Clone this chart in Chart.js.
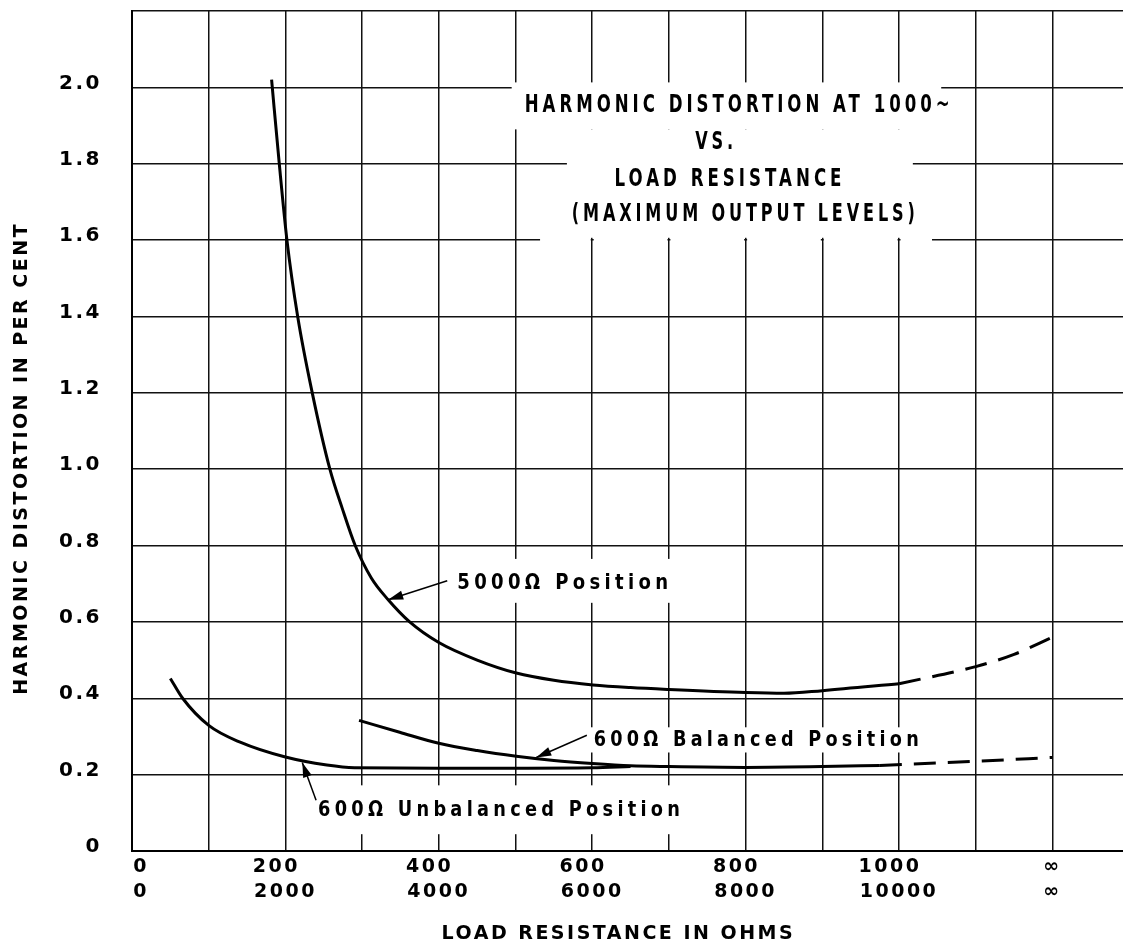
<!DOCTYPE html>
<html lang="en">
<head>
<meta charset="UTF-8">
<title>Harmonic Distortion vs. Load Resistance</title>
<script src="https://cdn.jsdelivr.net/npm/chart.js"></script>
<style>
  body { margin: 0; background: #fff; }
  #wrap { width: 1123px; height: 949px; }
</style>
</head>
<body>
<div id="wrap"><canvas id="chart" width="1123" height="949"></canvas></div>
<script>
// values: x = load resistance in ohms (top scale), y = distortion in per cent
const pos5000 = [[182, 2.02], [192, 1.80], [202, 1.60], [216, 1.40], [235, 1.20], [258, 1.00],
    [274, 0.898], [291, 0.80], [312, 0.715], [334, 0.658], [362, 0.60], [400, 0.546], [450, 0.500],
    [501, 0.466], [550, 0.447], [601, 0.435], [650, 0.428], [700, 0.423], [800, 0.415],
    [850, 0.413], [900, 0.42], [1000, 0.438]];
const pos5000Dash = [[1000, 0.438], [1100, 0.483], [1150, 0.515], [1200, 0.56]];
const balanced = [[296, 0.342], [349, 0.311], [400, 0.282], [450, 0.263], [501, 0.248], [550, 0.237],
    [600, 0.229], [650, 0.223], [700, 0.221], [800, 0.219], [900, 0.221], [975, 0.224]];
const balancedDash = [[975, 0.224], [1100, 0.235], [1200, 0.245]];
const unbalanced = [[50, 0.452], [66, 0.40], [100, 0.329], [141, 0.285], [200, 0.246], [254, 0.225],
    [290, 0.218], [400, 0.217], [500, 0.217], [600, 0.218], [650, 0.221]];

const xTicks = [0, 200, 400, 600, 800, 1000, 1200];
const xRow1 = ['0', '200', '400', '600', '800', '1000', '\u221e'];
const xRow2 = ['0', '2000', '4000', '6000', '8000', '10000', '\u221e'];
const xGrid = [0, 100, 200, 300, 400, 500, 600, 700, 800, 900, 1000, 1100, 1200];

const FONT = "'DejaVu Sans', sans-serif";

function pts(arr) { return arr.map(p => ({ x: p[0], y: p[1] })); }

function fitText(ctx, text, left, y, width, size) {
    ctx.save();
    ctx.font = 'bold ' + size + 'px ' + FONT;
    ctx.letterSpacing = '0px';
    const w0 = ctx.measureText(text).width;
    const sp = size * 0.24;
    const sx = width / (w0 + sp * (text.length - 1));
    ctx.translate(left, y);
    ctx.scale(sx, 1);
    ctx.letterSpacing = sp + 'px';
    ctx.textAlign = 'left';
    ctx.textBaseline = 'middle';
    ctx.fillStyle = '#000';
    ctx.fillText(text, 0, 0);
    ctx.restore();
}

function arrow(ctx, x0, y0, x1, y1) {
    ctx.save();
    ctx.strokeStyle = '#000';
    ctx.fillStyle = '#000';
    ctx.lineWidth = 1.5;
    ctx.beginPath(); ctx.moveTo(x0, y0); ctx.lineTo(x1, y1); ctx.stroke();
    const a = Math.atan2(y1 - y0, x1 - x0), L = 15, W = 4.5;
    ctx.beginPath();
    ctx.moveTo(x1, y1);
    ctx.lineTo(x1 - L * Math.cos(a) + W * Math.sin(a), y1 - L * Math.sin(a) - W * Math.cos(a));
    ctx.lineTo(x1 - L * Math.cos(a) - W * Math.sin(a), y1 - L * Math.sin(a) + W * Math.cos(a));
    ctx.closePath(); ctx.fill();
    ctx.restore();
}

// white patches where the draftsman left the grid open for lettering [x0, x1, y0, y1] in data units
const masks = [[495, 1055, 2.013, 1.89], [567, 1018, 1.89, 1.606], [415, 714, 0.765, 0.65],
    [597, 1034, 0.324, 0.258], [237, 725, 0.172, 0.044]];
const titleLines = [
    ['HARMONIC DISTORTION AT 1000~', 789, 1.953, 425],
    ['VS.', 759, 1.856, 38],
    ['LOAD RESISTANCE', 777, 1.757, 227],
    ['(MAXIMUM OUTPUT LEVELS)', 797, 1.666, 343]
];
const curveLabels = [
    ['5000\u03a9 Position', 424, 0.702, 211, [411, 0.708], [334, 0.658]],
    ['600\u03a9 Balanced Position', 602, 0.29, 325, [593, 0.303], [527, 0.245]],
    ['600\u03a9 Unbalanced Position', 242.5, 0.107, 362, [240, 0.133], [222, 0.232]]
];

const lettering = {
    id: 'lettering',
    beforeUpdate(chart) { chart.ctx.letterSpacing = '2.5px'; },
    beforeDraw(chart) { chart.ctx.letterSpacing = '2.5px'; },
    beforeDatasetsDraw(chart) {
        const ctx = chart.ctx, xs = chart.scales.x, ys = chart.scales.y;
        ctx.save();
        ctx.fillStyle = '#fff';
        masks.forEach(m => {
            const x0 = xs.getPixelForValue(m[0]), x1 = xs.getPixelForValue(m[1]);
            const y0 = ys.getPixelForValue(m[2]), y1 = ys.getPixelForValue(m[3]);
            ctx.fillRect(x0, y0, x1 - x0, y1 - y0);
        });
        // the 1.6 line is broken under the title, the verticals are not
        const a = xs.getPixelForValue(532), b = xs.getPixelForValue(1043), yy = ys.getPixelForValue(1.6);
        for (let k = 0; k < 13; k++) {
            const p0 = xs.getPixelForValue(k * 100) + 1.5, p1 = xs.getPixelForValue((k + 1) * 100) - 1.5;
            const s = Math.max(a, p0), e = Math.min(b, p1);
            if (e > s) ctx.fillRect(s, yy - 2.5, e - s, 5);
        }
        ctx.restore();
    },
    afterDatasetsDraw(chart) {
        const ctx = chart.ctx, xs = chart.scales.x, ys = chart.scales.y;
        titleLines.forEach(t => {
            fitText(ctx, t[0], xs.getPixelForValue(t[1]) - t[3] / 2, ys.getPixelForValue(t[2]), t[3], 24);
        });
        curveLabels.forEach(c => {
            fitText(ctx, c[0], xs.getPixelForValue(c[1]), ys.getPixelForValue(c[2]), c[3], 22);
            arrow(ctx, xs.getPixelForValue(c[4][0]), ys.getPixelForValue(c[4][1]),
                xs.getPixelForValue(c[5][0]), ys.getPixelForValue(c[5][1]));
        });
    }
};

function line(data, dashed) {
    return {
        data: pts(data),
        borderColor: '#000',
        borderWidth: 3,
        borderDash: dashed ? [22, 12] : [],
        pointRadius: 0,
        tension: 0.4,
        cubicInterpolationMode: 'monotone',
        fill: false
    };
}

new Chart(document.getElementById('chart'), {
    type: 'line',
    data: {
        datasets: [line(pos5000), line(pos5000Dash, true), line(balanced), line(balancedDash, true), line(unbalanced)]
    },
    options: {
        responsive: false,
        animation: false,
        devicePixelRatio: 1,
        layout: { padding: { top: 11, left: 0, right: 0, bottom: 0 } },
        plugins: { legend: { display: false }, tooltip: { enabled: false } },
        scales: {
            x: {
                type: 'linear', min: 0, max: 1292, bounds: 'data',
                afterBuildTicks(s) { s.ticks = xGrid.map(v => ({ value: v })); },
                afterFit(s) { s.height = 98; s.paddingLeft = 0; s.paddingRight = 0; },
                ticks: {
                    autoSkip: false, maxRotation: 0, padding: 3,
                    color: '#000',
                    font: { family: FONT, size: 19, weight: 'bold', lineHeight: 1.35 },
                    callback(value) {
                        const i = xTicks.indexOf(Math.round(value));
                        if (i < 0) return '';
                        let a = xRow1[i], b = xRow2[i];
                        if (i === 0) { a = '\u00a0\u00a0' + a; b = '\u00a0\u00a0' + b; }
                        else if (a.length < b.length) a = a + '\u00a0\u00a0';
                        return [a, b];
                    }
                },
                grid: { color: '#111', lineWidth: 1.5, drawTicks: false },
                border: { color: '#000', width: 2 },
                title: {
                    display: true, text: 'LOAD RESISTANCE IN OHMS  ', color: '#000',
                    font: { family: FONT, size: 19, weight: 'bold', lineHeight: 1.2 },
                    padding: { top: 16, bottom: 4 }
                }
            },
            y: {
                min: 0, max: 2.2,
                afterFit(s) { s.width = 132; s.paddingTop = 0; s.paddingBottom = 0; },
                ticks: {
                    stepSize: 0.2, padding: 30, labelOffset: -4, color: '#000',
                    font: { family: FONT, size: 20, weight: 'bold', lineHeight: 1 },
                    callback(value) {
                        const v = Math.round(value * 10) / 10;
                        if (v >= 2.2) return '';
                        return v === 0 ? '0' : v.toFixed(1);
                    }
                },
                grid: { color: '#111', lineWidth: 1.5, drawTicks: false },
                border: { color: '#000', width: 2 },
                title: {
                    display: true, text: 'HARMONIC DISTORTION IN PER CENT      ', color: '#000',
                    font: { family: FONT, size: 19, weight: 'bold', lineHeight: 1.2 },
                    padding: { top: 11, bottom: 0 }
                }
            }
        }
    },
    plugins: [lettering]
});
</script>
</body>
</html>
